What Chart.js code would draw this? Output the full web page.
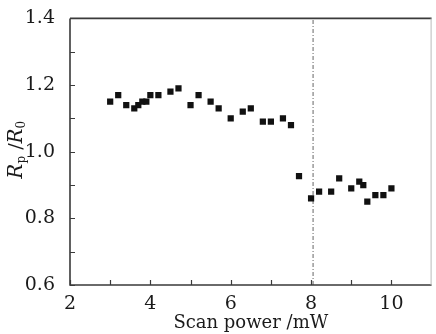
<!DOCTYPE html>
<html>
<head>
<meta charset="utf-8">
<script src="https://cdn.jsdelivr.net/npm/chart.js@4.4.0/dist/chart.umd.min.js"></script>
<style>
  html, body { margin: 0; padding: 0; background: #fff; }
  #wrap { width: 436px; height: 334px; }
</style>
</head>
<body>
<div id="wrap"><canvas id="myChart" width="436" height="334"></canvas></div>
<script>
// scan power (mW) and Rp/R0
const scanPower = [3.0, 3.2, 3.4, 3.6, 3.7, 3.8, 3.9, 4.0, 4.2, 4.5, 4.7, 5.0, 5.2, 5.5, 5.7,
                   6.0, 6.3, 6.5, 6.8, 7.0, 7.3, 7.5, 7.7, 8.0, 8.2, 8.5, 8.7, 9.0, 9.2, 9.3,
                   9.4, 9.6, 9.8, 10.0];
const ratio = [1.15, 1.17, 1.14, 1.13, 1.14, 1.15, 1.15, 1.17, 1.17, 1.18, 1.19, 1.14, 1.17, 1.15, 1.13,
               1.10, 1.12, 1.13, 1.09, 1.09, 1.10, 1.08, 0.927, 0.86, 0.88, 0.88, 0.92, 0.89, 0.91, 0.90,
               0.85, 0.87, 0.87, 0.89];
const thresholdX = 8.05;

const xTicks = [2, 4, 6, 8, 10];
const xMinor = [3, 5, 7, 9];
const yTicks = [0.6, 0.8, 1.0, 1.2, 1.4];
const yMinor = [0.7, 0.9, 1.1, 1.3];

const serif = '"DejaVu Serif", "Liberation Serif", serif';
const axisColor = '#3a3a3a';
const textColor = '#1a1a1a';

const points = scanPower.map((x, i) => ({ x: x, y: ratio[i] }));

// frame, inward ticks and the y title with subscripts
const framePlugin = {
    id: 'frame',
    afterDraw(chart) {
        const { ctx, chartArea: a, scales } = chart;
        const xs = scales.x, ys = scales.y;
        ctx.save();
        ctx.strokeStyle = axisColor;
        ctx.lineWidth = 1.6;
        ctx.beginPath();
        ctx.moveTo(a.left, a.top);
        ctx.lineTo(a.right, a.top);
        ctx.moveTo(a.left, a.top);
        ctx.lineTo(a.left, a.bottom);
        ctx.lineTo(a.right, a.bottom);
        ctx.stroke();
        ctx.strokeStyle = '#bbb';
        ctx.lineWidth = 1;
        ctx.beginPath();
        ctx.moveTo(a.right - 0.5, a.top);
        ctx.lineTo(a.right - 0.5, a.bottom);
        ctx.stroke();

        ctx.strokeStyle = axisColor;
        ctx.lineWidth = 1.2;
        ctx.beginPath();
        xTicks.concat(xMinor).forEach(v => {
            const px = Math.round(xs.getPixelForValue(v)) + 0.5;
            ctx.moveTo(px, a.bottom);
            ctx.lineTo(px, a.bottom - 5);
        });
        yTicks.concat(yMinor).forEach(v => {
            const py = Math.round(ys.getPixelForValue(v)) + 0.5;
            ctx.moveTo(a.left, py);
            ctx.lineTo(a.left + 5, py);
        });
        ctx.stroke();

        // y title: R_p /R_0
        ctx.translate(17, (a.top + a.bottom) / 2 - 2);
        ctx.rotate(-Math.PI / 2);
        ctx.fillStyle = textColor;
        ctx.textBaseline = 'middle';
        const parts = [
            { t: 'R', f: 'italic 20px ' + serif, dy: 0 },
            { t: 'p', f: '12px ' + serif, dy: 5 },
            { t: ' /', f: '19px ' + serif, dy: 0 },
            { t: 'R', f: 'italic 20px ' + serif, dy: 0 },
            { t: '0', f: '12px ' + serif, dy: 5 }
        ];
        let w = 0;
        parts.forEach(p => { ctx.font = p.f; w += ctx.measureText(p.t).width; });
        let cx = -w / 2;
        parts.forEach(p => {
            ctx.font = p.f;
            ctx.fillText(p.t, cx, p.dy);
            cx += ctx.measureText(p.t).width;
        });
        ctx.restore();
    }
};

new Chart(document.getElementById('myChart').getContext('2d'), {
    type: 'scatter',
    data: {
        datasets: [{
            data: points,
            pointStyle: 'rect',
            pointRadius: 4.4,
            pointHoverRadius: 4.4,
            backgroundColor: '#111',
            borderColor: '#111',
            borderWidth: 0
        }, {
            type: 'line',
            data: [{ x: thresholdX, y: 0.6 }, { x: thresholdX, y: 1.4 }],
            borderColor: '#666',
            borderWidth: 1,
            borderDash: [4, 2, 1, 2],
            pointRadius: 0,
            fill: false
        }]
    },
    options: {
        responsive: false,
        animation: false,
        layout: { padding: { top: 14, right: 1, left: 0, bottom: 0 } },
        plugins: {
            legend: { display: false },
            tooltip: { enabled: false }
        },
        scales: {
            x: {
                type: 'linear',
                min: 2,
                max: 11,
                afterBuildTicks: s => { s.ticks = xTicks.map(v => ({ value: v })); },
                afterFit: s => { s.height = 49; },
                grid: { display: false },
                border: { display: false },
                ticks: {
                    color: textColor,
                    padding: 0,
                    font: { family: serif, size: 19 },
                    callback: v => String(v)
                },
                title: {
                    display: true,
                    text: 'Scan power /mW',
                    color: textColor,
                    font: { family: serif, size: 18 },
                    padding: { top: 0, bottom: 0 }
                }
            },
            y: {
                min: 0.6,
                max: 1.4,
                afterBuildTicks: s => { s.ticks = yTicks.map(v => ({ value: v })); },
                afterFit: s => { s.width = 70; },
                grid: { display: false },
                border: { display: false },
                ticks: {
                    color: textColor,
                    padding: 7,
                    font: { family: serif, size: 19 },
                    callback: v => v.toFixed(1)
                }
            }
        }
    },
    plugins: [framePlugin]
});
</script>
</body>
</html>
